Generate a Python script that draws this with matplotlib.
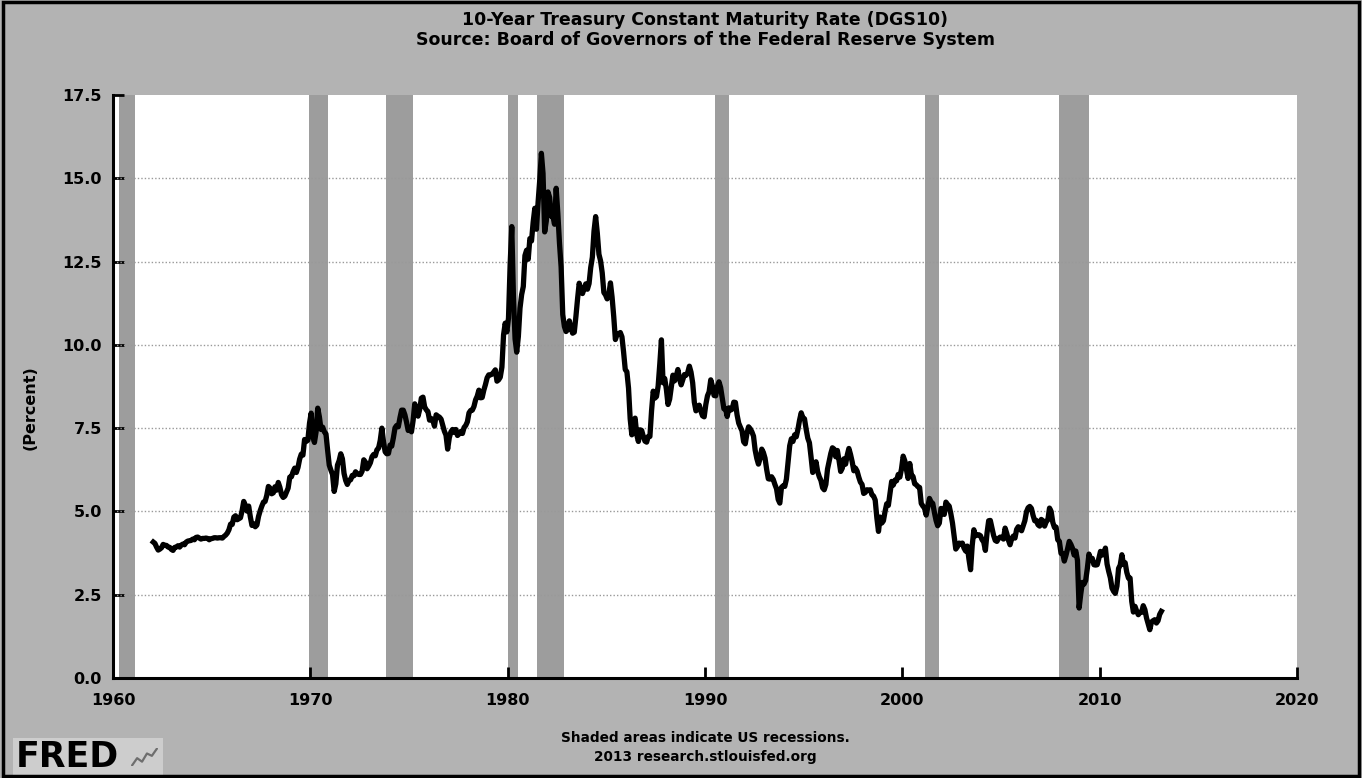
import numpy as np
import matplotlib
matplotlib.use("Agg")
import matplotlib.pyplot as plt
from matplotlib.patches import Rectangle

# monthly 10-year treasury rate (percent), Jan 1962 onwards
rates_1960s = [
    4.08, 4.04, 3.93, 3.84, 3.87, 3.91, 4.01, 3.98, 3.98, 3.93, 3.92, 3.86,
    3.83, 3.92, 3.93, 3.97, 3.93, 3.99, 4.02, 4.00, 4.08, 4.11, 4.12, 4.13,
    4.17, 4.15, 4.22, 4.23, 4.20, 4.17, 4.19, 4.19, 4.20, 4.19, 4.15, 4.18,
    4.19, 4.21, 4.21, 4.20, 4.21, 4.21, 4.20, 4.25, 4.29, 4.35, 4.45, 4.62,
    4.61, 4.83, 4.87, 4.75, 4.78, 4.81, 5.02, 5.30, 5.18, 5.01, 5.16, 4.84,
    4.58, 4.63, 4.54, 4.59, 4.85, 5.02, 5.16, 5.28, 5.30, 5.48, 5.75, 5.70,
    5.53, 5.56, 5.74, 5.64, 5.87, 5.72, 5.50, 5.42, 5.46, 5.58, 5.70, 6.03,
    6.04, 6.19, 6.30, 6.17, 6.32, 6.57, 6.72, 6.69, 7.16, 7.10, 7.14, 7.65,
]
rates_1970s = [
    7.95, 7.24, 7.07, 7.39, 8.10, 7.84, 7.46, 7.53, 7.39, 7.33, 6.84, 6.39,
    6.24, 6.11, 5.60, 5.83, 6.39, 6.52, 6.73, 6.58, 6.14, 5.93, 5.81, 5.93,
    5.95, 6.08, 6.07, 6.19, 6.13, 6.11, 6.11, 6.21, 6.55, 6.48, 6.28, 6.36,
    6.46, 6.64, 6.71, 6.67, 6.85, 6.90, 7.13, 7.50, 7.09, 6.79, 6.73, 6.74,
    6.99, 6.96, 7.21, 7.51, 7.58, 7.54, 7.81, 8.04, 8.04, 7.90, 7.68, 7.43,
    7.50, 7.39, 7.73, 8.23, 8.06, 7.86, 8.06, 8.40, 8.43, 8.14, 8.05, 8.00,
    7.74, 7.79, 7.73, 7.56, 7.90, 7.86, 7.83, 7.77, 7.59, 7.41, 7.29, 6.87,
    7.21, 7.39, 7.46, 7.37, 7.46, 7.28, 7.33, 7.40, 7.34, 7.52, 7.58, 7.69,
    7.96, 8.03, 8.04, 8.15, 8.35, 8.46, 8.64, 8.41, 8.42, 8.64, 8.81, 9.01,
    9.10, 9.10, 9.12, 9.18, 9.25, 8.91, 8.95, 9.03, 9.33, 10.30, 10.65, 10.39,
]
rates_1980s = [
    10.80, 12.41, 13.55, 11.47, 10.18, 9.78, 10.25, 11.10, 11.51, 11.75, 12.68, 12.84,
    12.57, 13.19, 13.12, 13.68, 14.10, 13.47, 14.28, 14.94, 15.75, 15.15, 13.39, 13.72,
    14.59, 14.43, 13.86, 13.87, 13.62, 14.70, 13.95, 13.06, 12.34, 10.91, 10.55, 10.40,
    10.46, 10.72, 10.51, 10.35, 10.38, 10.85, 11.38, 11.85, 11.65, 11.54, 11.69, 11.83,
    11.67, 11.84, 12.32, 12.63, 13.41, 13.85, 13.36, 12.72, 12.52, 12.16, 11.57, 11.50,
    11.38, 11.51, 11.86, 11.43, 10.85, 10.16, 10.31, 10.33, 10.37, 10.24, 9.78, 9.26,
    9.19, 8.70, 7.78, 7.30, 7.71, 7.80, 7.30, 7.10, 7.45, 7.43, 7.25, 7.11,
    7.08, 7.25, 7.25, 8.02, 8.61, 8.40, 8.45, 8.76, 9.42, 10.15, 8.86, 8.99,
    8.67, 8.21, 8.37, 8.72, 9.09, 8.92, 9.06, 9.26, 8.98, 8.80, 8.96, 9.11,
    9.09, 9.17, 9.36, 9.18, 8.86, 8.28, 8.02, 8.11, 8.19, 8.01, 7.87, 7.84,
]
rates_1990s = [
    8.21, 8.47, 8.59, 8.95, 8.76, 8.48, 8.47, 8.75, 8.89, 8.72, 8.39, 8.08,
    8.09, 7.85, 8.11, 8.04, 8.07, 8.28, 8.27, 7.90, 7.65, 7.53, 7.42, 7.09,
    7.03, 7.34, 7.54, 7.48, 7.39, 7.26, 6.84, 6.59, 6.42, 6.59, 6.87, 6.77,
    6.60, 6.26, 5.98, 5.97, 6.04, 5.96, 5.81, 5.68, 5.36, 5.25, 5.72, 5.77,
    5.75, 5.97, 6.48, 6.97, 7.18, 7.10, 7.30, 7.24, 7.46, 7.74, 7.96, 7.81,
    7.78, 7.47, 7.20, 7.06, 6.63, 6.17, 6.28, 6.49, 6.20, 6.04, 5.93, 5.71,
    5.65, 5.81, 6.27, 6.51, 6.74, 6.91, 6.87, 6.64, 6.83, 6.53, 6.20, 6.30,
    6.58, 6.42, 6.69, 6.89, 6.71, 6.49, 6.22, 6.30, 6.21, 6.03, 5.88, 5.81,
    5.54, 5.57, 5.65, 5.64, 5.65, 5.50, 5.46, 5.34, 4.81, 4.40, 4.83, 4.65,
    4.72, 5.00, 5.23, 5.18, 5.54, 5.90, 5.79, 5.94, 5.92, 6.11, 6.03, 6.28,
]
rates_2000s = [
    6.66, 6.52, 6.26, 5.99, 6.44, 6.10, 6.05, 5.83, 5.80, 5.74, 5.72, 5.24,
    5.16, 5.10, 4.89, 5.14, 5.39, 5.28, 5.24, 4.97, 4.73, 4.57, 4.65, 5.09,
    5.04, 4.91, 5.28, 5.21, 5.16, 4.93, 4.65, 4.26, 3.87, 3.94, 4.05, 4.03,
    4.05, 3.90, 3.81, 3.96, 3.57, 3.25, 3.98, 4.45, 4.27, 4.29, 4.30, 4.27,
    4.15, 4.08, 3.83, 4.35, 4.72, 4.73, 4.50, 4.28, 4.13, 4.10, 4.19, 4.23,
    4.22, 4.17, 4.50, 4.34, 4.14, 4.00, 4.18, 4.26, 4.20, 4.46, 4.54, 4.47,
    4.42, 4.57, 4.72, 4.99, 5.11, 5.15, 5.09, 4.88, 4.72, 4.73, 4.60, 4.56,
    4.76, 4.72, 4.56, 4.69, 4.75, 5.10, 5.00, 4.67, 4.52, 4.53, 4.15, 4.10,
    3.74, 3.74, 3.51, 3.68, 3.88, 4.10, 4.01, 3.89, 3.69, 3.81, 3.53, 2.10,
    2.52, 2.87, 2.82, 2.93, 3.29, 3.72, 3.56, 3.59, 3.40, 3.39, 3.40, 3.59,
]
rates_2010s = [
    3.80, 3.69, 3.73, 3.90, 3.42, 3.20, 3.01, 2.70, 2.60, 2.54, 2.76, 3.29,
    3.39, 3.70, 3.41, 3.46, 3.17, 3.00, 3.00, 2.30, 1.98, 2.15, 2.01, 1.90,
    1.97, 1.97, 2.17, 2.05, 1.80, 1.62, 1.45, 1.68, 1.72, 1.75, 1.65, 1.72,
    1.91, 2.00,
]
first_year = 1962

# NBER recessions (decimal years)
rec_start = [1960.29, 1969.92, 1973.84, 1980.0, 1981.5, 1990.5, 2001.17, 2007.92]
rec_end = [1961.12, 1970.88, 1975.21, 1980.5, 1982.88, 1991.21, 2001.88, 2009.46]

yticks = [0.0, 2.5, 5.0, 7.5, 10.0, 12.5, 15.0, 17.5]
ygrid = [2.5, 5.0, 7.5, 10.0, 12.5, 15.0]
xticks = [1960, 1970, 1980, 1990, 2000, 2010, 2020]

# little squiggle for the FRED logo icon
logo_icon = [1.0, 2.2, 1.6, 3.0, 2.6, 3.8]

rates = np.array(rates_1960s + rates_1970s + rates_1980s + rates_1990s + rates_2000s + rates_2010s)
dates = first_year + (np.arange(len(rates)) + 0.5) / 12.0

bg = '#b3b3b3'
band = '#9d9d9d'
W, H = 1362., 778.

fig = plt.figure(figsize=(13.62, 7.78), dpi=100)
fig.patch.set_facecolor(bg)
ax = fig.add_axes([113/W, 1-678/H, (1297-113)/W, (678-95)/H])
ax.set_facecolor('white')

for s, e in zip(rec_start, rec_end):
    ax.axvspan(s, e, color=band, lw=0, zorder=1)

for g in ygrid:
    ax.axhline(g, color='#999999', linestyle=(0, (1, 1.5)), lw=1.0, zorder=2)

ax.plot(dates, rates, color='black', lw=3.8, zorder=3, solid_joinstyle='round')

ax.set_xlim(1960, 2020)
ax.set_ylim(0, 17.5)
ax.set_yticks(yticks)
ax.set_yticklabels(["%.1f" % v for v in yticks])
ax.set_xticks(xticks)
ax.set_xticklabels([str(v) for v in xticks])

for side in ['top', 'right']:
    ax.spines[side].set_visible(False)
for side in ['left', 'bottom']:
    ax.spines[side].set_linewidth(2.2)
    ax.spines[side].set_color('black')
ax.tick_params(direction='in', length=8, width=2, labelsize=11.5, colors='black')
ax.tick_params(axis='x', pad=11)
ax.tick_params(axis='y', pad=8)
for lab in ax.get_xticklabels() + ax.get_yticklabels():
    lab.set_fontweight('bold')

fig.text(30/W, 1-408/H, "(Percent)", rotation=90, ha='center', va='center',
         fontsize=11.5, fontweight='bold')

fig.text(705/W, 1-20/H, "10-Year Treasury Constant Maturity Rate (DGS10)",
         ha='center', va='center', fontsize=12.5, fontweight='bold')
fig.text(705/W, 1-40/H, "Source: Board of Governors of the Federal Reserve System",
         ha='center', va='center', fontsize=12.5, fontweight='bold')

fig.text(705/W, 1-738/H, "Shaded areas indicate US recessions.",
         ha='center', va='center', fontsize=9.8, fontweight='bold')
fig.text(705/W, 1-757/H, "2013 research.stlouisfed.org",
         ha='center', va='center', fontsize=9.8, fontweight='bold')

# FRED logo
fig.patches.append(Rectangle((13/W, 1-776/H), 150/W, 38/H, transform=fig.transFigure,
                             facecolor='#cdcdcd', edgecolor='none', zorder=0))
fig.text(16/W, 1-757/H, "FRED", ha='left', va='center', fontsize=25,
         fontweight='heavy', color='black')
icon = fig.add_axes([131/W, 1-766/H, 27/W, 18/H], zorder=5)
icon.plot(range(len(logo_icon)), logo_icon, color='#6e6e6e', lw=1.6)
icon.axis('off')

fig.patches.append(Rectangle((0.002, 0.003), 0.996, 0.994, transform=fig.transFigure,
                             fill=False, edgecolor='black', lw=2.5, zorder=10))

fig.savefig("out.png", dpi=100, facecolor=bg)
